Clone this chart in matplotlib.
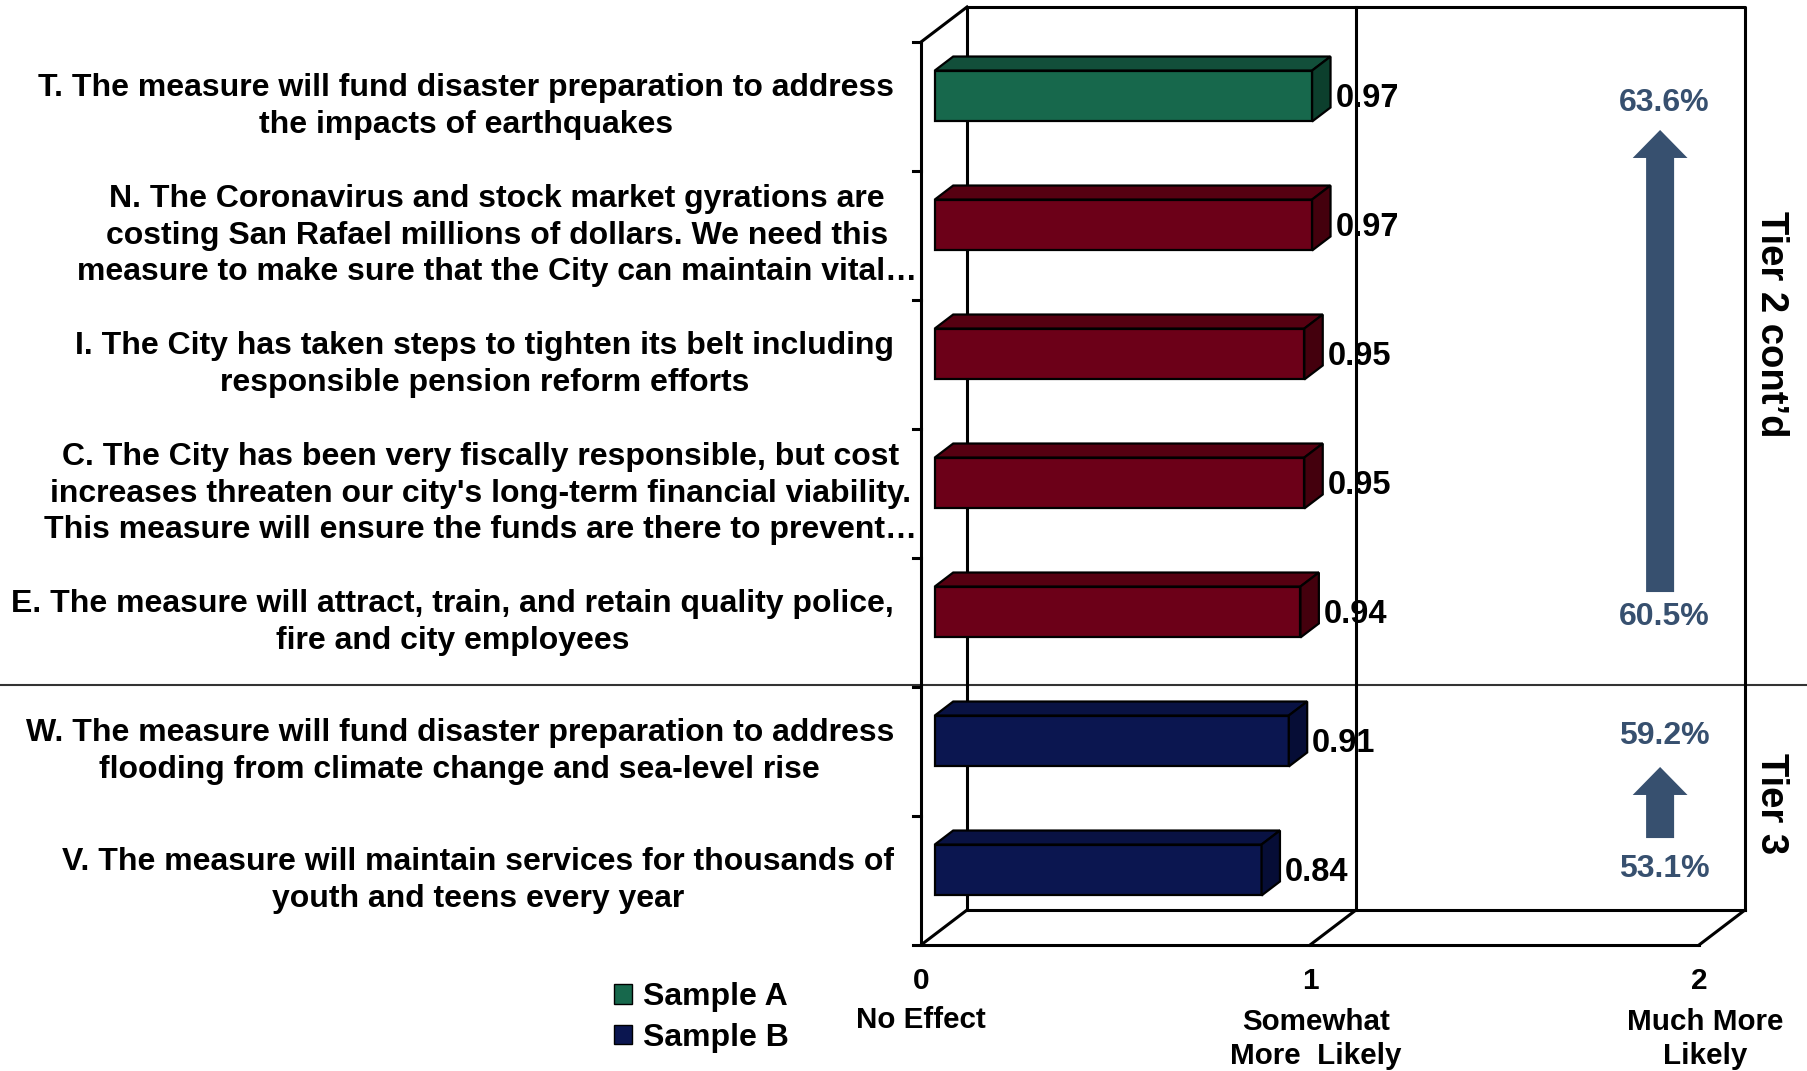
import matplotlib.pyplot as plt
from matplotlib.patches import Polygon, Patch, FancyArrow

plt.rcParams['font.family'] = ['Liberation Sans', 'DejaVu Sans']
plt.rcParams['font.weight'] = 'bold'

# ---- data ----
labels = [
    "T. The measure will fund disaster preparation to address\nthe impacts of earthquakes",
    "N. The Coronavirus and stock market gyrations are\ncosting San Rafael millions of dollars. We need this\nmeasure to make sure that the City can maintain vital\u2026",
    "I. The City has taken steps to tighten its belt including\nresponsible pension reform efforts",
    "C. The City has been very fiscally responsible, but cost\nincreases threaten our city's long-term financial viability.\nThis measure will ensure the funds are there to prevent\u2026",
    "E. The measure will attract, train, and retain quality police,\nfire and city employees",
    "W. The measure will fund disaster preparation to address\nflooding from climate change and sea-level rise",
    "V. The measure will maintain services for thousands of\nyouth and teens every year",
]
values = [0.97, 0.97, 0.95, 0.95, 0.94, 0.91, 0.84]
samples = ['A', 'both', 'both', 'both', 'both', 'B', 'B']

tick_vals = [0, 1, 2]
tick_text = ['No Effect', 'Somewhat\nMore  Likely', 'Much More\nLikely']

tier_names = ["Tier 2 cont\u2019d", "Tier 3"]
tier_pcts = [("63.6%", "60.5%"), ("59.2%", "53.1%")]

# front / top / side shades per sample
shades = {
    'A':    ('#17684c', '#124f3a', '#0c3f2d'),
    'both': ('#6c0018', '#560011', '#44000d'),
    'B':    ('#0b1650', '#091243', '#060d36'),
}
pct_color = '#37506f'

W, H = 1808, 1071
fig = plt.figure(figsize=(W / 100, H / 100), dpi=100)
ax = fig.add_axes([0, 0, 1, 1])
ax.axis('off')

# pixel layout of the plot box: value 0 on the front plane, one unit, one row
x0_px, unit_px, row_px, top_px = 921, 389, 129, 42
ax.set_xlim(-x0_px / unit_px, (W - x0_px) / unit_px)
ax.set_ylim(-0.5 + (H - top_px) / row_px, -0.5 - top_px / row_px)

n = len(values)
DX, DY = 46 / unit_px, 35 / row_px     # depth of the 3d box
y_top, y_bot = -0.5, n - 0.5
lw_box = 2.2

# back wall, floor and left wall
ax.plot([DX, DX, 2 + DX, 2 + DX], [y_bot - DY, y_top - DY, y_top - DY, y_bot - DY], c='k', lw=lw_box)
ax.plot([DX, 2 + DX], [y_bot - DY, y_bot - DY], c='k', lw=lw_box)
ax.plot([1 + DX, 1 + DX], [y_top - DY, y_bot - DY], c='k', lw=lw_box)
ax.plot([0, 0, 2], [y_top, y_bot, y_bot], c='k', lw=lw_box)
ax.plot([0, DX], [y_top, y_top - DY], c='k', lw=lw_box)
for t in tick_vals:
    ax.plot([t, t + DX], [y_bot, y_bot - DY], c='k', lw=lw_box)
for k in range(n + 1):
    ax.plot([-8 / unit_px, 0], [y_top + k, y_top + k], c='k', lw=lw_box)

# tier divider across the whole width
ax.axhline(4.484, color='#333333', lw=1.5, zorder=1)

# bars: front face + top + side
bx = 0.3 * DX
bh = 0.395
yc = [i - 0.3 * DY for i in range(n)]
fronts = [shades[s][0] for s in samples]
ax.barh(yc, values, left=bx, height=bh, color=fronts, edgecolor='k', lw=1.6, zorder=3)
ddx, ddy = 0.4 * DX, 0.4 * DY
for i, v in enumerate(values):
    f, tp, sd = shades[samples[i]]
    yt, yb = yc[i] - bh / 2, yc[i] + bh / 2
    xe = bx + v
    ax.add_patch(Polygon([(bx, yt), (xe, yt), (xe + ddx, yt - ddy), (bx + ddx, yt - ddy)],
                         closed=True, fc=tp, ec='k', lw=1.6, zorder=3))
    ax.add_patch(Polygon([(xe, yt), (xe, yb), (xe + ddx, yb - ddy), (xe + ddx, yt - ddy)],
                         closed=True, fc=sd, ec='k', lw=1.6, zorder=3))
    ax.text(xe + ddx + 5 / unit_px, yc[i] + 0.02, f"{v:.2f}", fontsize=23.5, ha='left', va='center', zorder=4)

# statement labels
for i, lab in enumerate(labels):
    xr = -4 / unit_px if lab.endswith('\u2026') else -27 / unit_px
    ax.text(xr, i, lab, fontsize=23, ha='right', va='center', multialignment='center', linespacing=1.3)

# axis tick values and descriptions
for t, txt in zip(tick_vals, tick_text):
    ax.text(t, 6.779, str(t), fontsize=21.5, ha='center', va='center')
    if '\n' in txt:
        ax.text(t + 0.015, 7.23, txt, fontsize=21.3, ha='center', va='center', linespacing=1.25)
    else:
        ax.text(t, 7.08, txt, fontsize=21.3, ha='center', va='center')

# tier annotations
ax_x = 1.90
ax.text(1.91, -0.027, tier_pcts[0][0], fontsize=23, color=pct_color, ha='center', va='center')
ax.text(1.91, 3.957, tier_pcts[0][1], fontsize=23, color=pct_color, ha='center', va='center')
ax.text(1.91, 4.88, tier_pcts[1][0], fontsize=23, color=pct_color, ha='center', va='center')
ax.text(1.91, 5.91, tier_pcts[1][1], fontsize=23, color=pct_color, ha='center', va='center')
ax.add_patch(FancyArrow(ax_x, 3.764, 0, 0.182 - 3.764, width=0.072, head_width=0.141,
                        head_length=0.217, length_includes_head=True, color=pct_color, lw=0))
ax.add_patch(FancyArrow(ax_x, 5.671, 0, 5.12 - 5.671, width=0.072, head_width=0.141,
                        head_length=0.217, length_includes_head=True, color=pct_color, lw=0))
ax.text(2.185, 1.686, tier_names[0], fontsize=27.5, rotation=270, ha='center', va='center')
ax.text(2.185, 5.40, tier_names[1], fontsize=27.5, rotation=270, ha='center', va='center')

# legend
handles = [Patch(fc=shades['A'][0], ec='k', lw=1), Patch(fc=shades['B'][0], ec='k', lw=1)]
fig.legend(handles, ['Sample A', 'Sample B'], loc='center', bbox_to_anchor=(0.388, 0.050),
           frameon=False, fontsize=23, handlelength=0.55, handleheight=0.55,
           handletextpad=0.35, labelspacing=0.32, borderpad=0)

fig.savefig('out.png', dpi=100)
